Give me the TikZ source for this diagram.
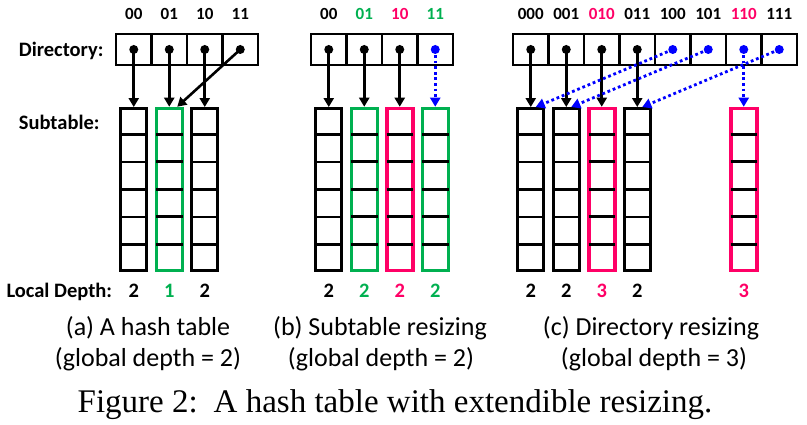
\documentclass[tikz,border=0pt]{standalone}
\usepackage{fontspec}
\setmainfont{Liberation Serif}
\newfontfamily\calib{Carlito}
\usetikzlibrary{arrows.meta,positioning}
\definecolor{grn}{RGB}{0,176,80}
\definecolor{pnk}{RGB}{255,0,102}
\tikzset{
  cell/.style={draw,line width=2.8pt,minimum width=35.5pt,minimum height=31pt,inner sep=0pt},
  subtab/.style={minimum width=26pt,minimum height=162pt,inner sep=0pt},
  row/.style={line width=2.6pt,shorten <=1.5pt,shorten >=1.5pt},
  ptr/.style={line width=2.6pt,-{Triangle[length=9pt,width=10pt]}},
  newptr/.style={blue,line width=2.8pt,dash pattern=on 2.8pt off 2.8pt,-{Triangle[length=9pt,width=10pt]}},
  dot/.style={circle,inner sep=0pt,minimum size=9pt},
  bits/.style={font=\calib\bfseries\fontsize{17}{17}\selectfont,anchor=base},
  lab/.style={font=\calib\bfseries\fontsize{20.5}{20.5}\selectfont},
  captext/.style={font=\calib\fontsize{26}{26}\selectfont,anchor=base},
}
\begin{document}
\begin{tikzpicture}[x=1pt,y=-1pt]
\useasboundingbox (0,0) rectangle (807,425);

\node[lab,anchor=base east] (dirlab) at (107,57) {Directory:};
\node[lab,anchor=base east] (sublab) at (103,130) {Subtable:};
\node[lab,anchor=base west] (deplab) at (3,298) {Local Depth:};

% directories
\foreach \i/\lbl/\c/\d in {0/00/black/black,1/01/black/black,2/10/black/black,3/11/black/black}{
  \node[cell] (da\i) at ({133.75+35.5*\i},49.5) {};
  \node[bits,text=\c] (ba\i) at ({133.75+35.5*\i},20) {\lbl};
  \node[dot,fill=\d] (pa\i) at (da\i) {};
}
\foreach \i/\lbl/\c/\d in {0/00/black/black,1/01/grn/black,2/10/pnk/black,3/11/grn/blue}{
  \node[cell] (db\i) at ({328.75+35.5*\i},49.5) {};
  \node[bits,text=\c] (bb\i) at ({328.75+35.5*\i},20) {\lbl};
  \node[dot,fill=\d] (pb\i) at (db\i) {};
}
\foreach \i/\lbl/\c/\d in {0/000/black/black,1/001/black/black,2/010/pnk/black,3/011/black/black,
                           4/100/black/blue,5/101/black/blue,6/110/pnk/blue,7/111/black/blue}{
  \node[cell] (dc\i) at ({530.75+35.5*\i},49.5) {};
  \node[bits,text=\c] (bc\i) at ({530.75+35.5*\i},20) {\lbl};
  \node[dot,fill=\d] (pc\i) at (dc\i) {};
}

% subtables
\foreach \n/\x/\c/\w/\v in {a0/133.75/black/2.9/2,a1/169.25/grn/3.5/1,a2/204.75/black/2.9/2,
    b0/328.75/black/2.9/2,b1/364.25/grn/3.5/2,b2/399.75/pnk/3.5/2,b3/435.25/grn/3.5/2,
    c0/530.75/black/2.9/2,c1/566.25/black/2.9/2,c2/601.75/pnk/3.5/3,c3/637.25/black/2.9/2,
    c6/743.75/pnk/3.5/3}{
  \node[subtab,draw=\c,line width=\w pt] (s\n) at (\x,189.5) {};
  \foreach \k in {1,...,5}
    \draw[row] ([yshift={-27.5pt*\k}]s\n.north west) -- ([yshift={-27.5pt*\k}]s\n.north east);
  \node[lab,text=\c,anchor=base] (ld\n) at (\x,298) {\v};
}

% pointers
\draw[ptr] (pa0.center) -- (sa0.north);
\draw[ptr] (pa1.center) -- (sa1.north);
\draw[ptr] (pa2.center) -- (sa2.north);
\draw[ptr] (pa3.center) -- ([xshift=8pt]sa1.north);

\draw[ptr] (pb0.center) -- (sb0.north);
\draw[ptr] (pb1.center) -- (sb1.north);
\draw[ptr] (pb2.center) -- (sb2.north);
\draw[newptr] (pb3.center) -- (sb3.north);

\draw[ptr] (pc0.center) -- (sc0.north);
\draw[ptr] (pc1.center) -- (sc1.north);
\draw[ptr] (pc2.center) -- (sc2.north);
\draw[ptr] (pc3.center) -- (sc3.north);
\draw[newptr] (pc4.center) -- ([xshift=5pt]sc0.north);
\draw[newptr] (pc5.center) -- ([xshift=5pt]sc1.north);
\draw[newptr] (pc6.center) -- (sc6.north);
\draw[newptr] (pc7.center) -- ([xshift=5pt]sc3.north);

% captions
\node[captext] (capa) at (148,335) {(a) A hash table};
\node[captext] (capa2) at (148,366) {(global depth = 2)};
\node[captext] (capb) at (380,335) {(b) Subtable resizing};
\node[captext] (capb2) at (381,366) {(global depth = 2)};
\node[captext] (capc) at (651,335) {(c) Directory resizing};
\node[captext] (capc2) at (654,366) {(global depth = 3)};
\node[font=\fontsize{33}{33}\selectfont,anchor=base] (fig) at (395,412)
  {Figure 2:\hspace{0.15em} A hash table with extendible resizing.};
\end{tikzpicture}
\end{document}
